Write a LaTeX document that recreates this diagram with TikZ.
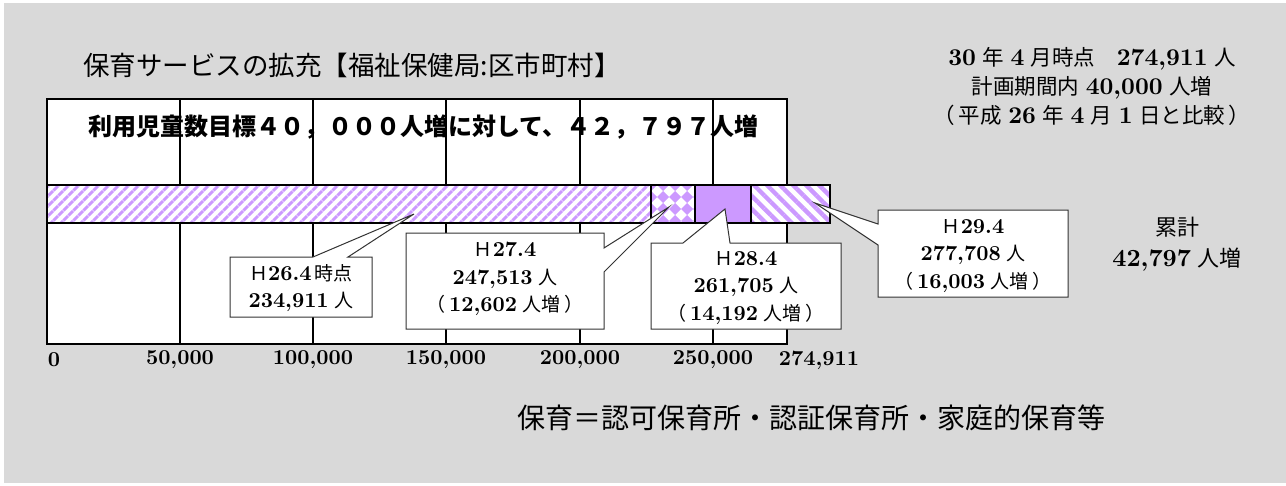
\documentclass[tikz,border=0pt]{standalone}
\usepackage{fontspec}
\newfontfamily\jp{Noto Sans CJK JP}
\newfontfamily\dgf{lmroman10-bold}[Extension=.otf, Scale=1.12]
\usetikzlibrary{patterns.meta}
\definecolor{bg}{HTML}{D9D9D9}
\definecolor{lav}{HTML}{CC99FF}
\newcommand\jt[1]{{\jp #1}}
\newcommand\dg[1]{{\dgf #1}}
\tikzset{
  gridline/.style={line width=1.8pt, black},
  callbox/.style={fill=white, draw=black!80, line width=1pt, line join=miter},
  calltext/.style={align=center, inner sep=0pt, font=\fontsize{19}{27.5}\selectfont},
  axislab/.style={inner sep=0pt, font=\fontsize{19}{24}\selectfont\dgf},
  segbox/.style={draw=black, line width=1.8pt},
}
\begin{document}
\begin{tikzpicture}[x=1pt,y=-1pt]
\useasboundingbox (0,0) rectangle (1286,485);
\fill[white] (0,0) rectangle (1286,485);
\fill[bg] (4,3) rectangle (1286,483);

% title
\node[anchor=west, inner sep=0pt, font=\fontsize{26.5}{30}\selectfont\jp] (title) at (83,65) {保育サービスの拡充【福祉保健局:区市町村】};

% chart area
\fill[white] (47,99) rectangle (787,344);
\foreach \x in {180,313,446,580,713} \draw[gridline] (\x,99) -- (\x,344);
\draw[gridline] (47,99) rectangle (787,344);

% headline
\node[anchor=west, inner sep=0pt, font=\fontsize{24}{28}\selectfont\jp\bfseries] (head) at (88,127) {利用児童数目標４０，０００人増に対して、４２，７９７人増};

% bar segments
\fill[white] (47,185) rectangle (830,223);
\fill[pattern={Lines[angle=45,distance=7.4pt,line width=3.4pt]}, pattern color=lav] (47,185) rectangle (651,223);
\begin{scope}
  \clip (651,185) rectangle (695,223);
  \foreach \i in {0,...,4} \foreach \j in {0,...,4}
    \fill[lav] (651+12*\i-6,185+12*\j) -- ++(6,-6) -- ++(6,6) -- ++(-6,6) -- cycle;
\end{scope}
\fill[lav] (695,185) rectangle (751,223);
\fill[pattern={Lines[angle=-45,distance=9.2pt,line width=4.4pt]}, pattern color=lav] (751,185) rectangle (830,223);
\draw[segbox] (47,185) rectangle (651,223);
\draw[segbox] (651,185) rectangle (695,223);
\draw[segbox] (695,185) rectangle (751,223);
\draw[segbox] (751,185) rectangle (830,223);

% tips
\coordinate (tip1) at (414,214);
\coordinate (tip2) at (669,207);
\coordinate (tip3) at (725,209);
\coordinate (tip4) at (815,203);

% callout 1
\draw[callbox] (230,257) -- (313,257) -- (tip1) -- (348,257) -- (372,257) -- (372,317) -- (230,317) -- cycle;
\node[calltext] (c1) at (301,288) {\jt{Ｈ}\dg{26.4}\,\jt{時点}\\\dg{234,911}\ \jt{人}};

% callout 2
\draw[callbox] (406,233) -- (604,233) -- (604,248) -- (tip2) -- (604,272) -- (604,329) -- (406,329) -- cycle;
\node[calltext] (c2) at (505,279) {\jt{Ｈ}\dg{27.4}\\\dg{247,513}\ \jt{人}\\\jt{（}\,\dg{12,602}\ \jt{人増}\,\jt{）}};

% callout 3
\draw[callbox] (651,243) -- (683,243) -- (tip3) -- (730,243) -- (841,243) -- (841,329) -- (651,329) -- cycle;
\node[calltext] (c3) at (746,288) {\jt{Ｈ}\dg{28.4}\\\dg{261,705}\ \jt{人}\\\jt{（}\,\dg{14,192}\ \jt{人増}\,\jt{）}};

% callout 4
\draw[callbox] (878,210) -- (1068,210) -- (1068,297) -- (878,297) -- (878,245) -- (tip4) -- (878,224) -- cycle;
\node[calltext] (c4) at (973,256) {\jt{Ｈ}\dg{29.4}\\\dg{277,708}\ \jt{人}\\\jt{（}\,\dg{16,003}\ \jt{人増}\,\jt{）}};

% axis labels
\node[axislab] (a0) at (54,360) {0};
\node[axislab] (a1) at (180,360) {50,000};
\node[axislab] (a2) at (313,360) {100,000};
\node[axislab] (a3) at (446,360) {150,000};
\node[axislab] (a4) at (580,360) {200,000};
\node[axislab] (a5) at (713,360) {250,000};
\node[axislab] (a6) at (819,360) {274,911};

% top right
\node[align=center, inner sep=0pt, font=\fontsize{21.5}{29}\selectfont] (info) at (1092,86)
  {\dg{30}\ \jt{年}\ \dg{4}\ \jt{月時点}\quad\dg{274,911}\ \jt{人}\\
   \jt{計画期間内}\ \dg{40,000}\ \jt{人増}\\
   \jt{（}\,\jt{平成}\ \dg{26}\ \jt{年}\ \dg{4}\ \jt{月}\ \dg{1}\ \jt{日と比較}\,\jt{）}};

% cumulative
\node[align=center, inner sep=0pt, font=\fontsize{22}{31}\selectfont] (total) at (1177,244)
  {\jt{累計}\\\dg{42,797}\ \jt{人増}};

% footer
\node[inner sep=0pt, font=\fontsize{28}{32}\selectfont\jp] (foot) at (811,418) {保育＝認可保育所・認証保育所・家庭的保育等};
\end{tikzpicture}
\end{document}
